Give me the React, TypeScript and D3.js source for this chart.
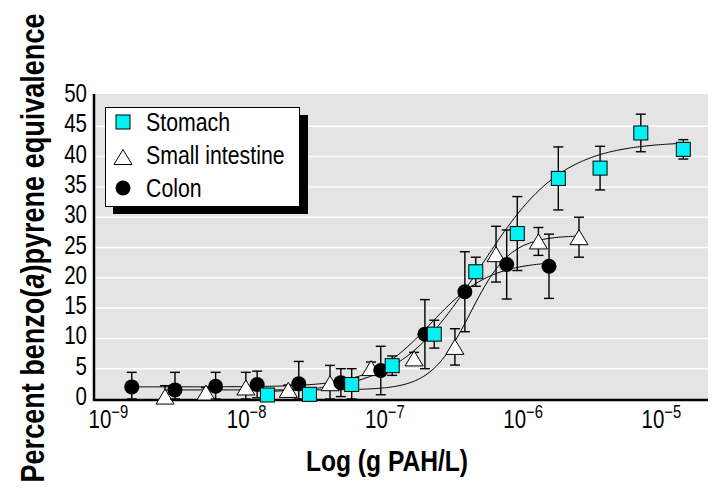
import React from "react";
import * as d3 from "d3";

// ---- data (x in g PAH/L, y in percent B[a]P equivalence) ----
const stomachX = [1.59e-8, 3.2e-8, 6.47e-8, 1.27e-7, 2.56e-7, 5.11e-7, 1.02e-6, 2.02e-6, 4.05e-6, 7.98e-6, 1.62e-5];
const stomachY = [0.66, 0.77, 2.4, 5.5, 10.7, 21.0, 27.3, 36.4, 38.1, 43.9, 41.2];
const stomachErr = [0.6, 0.6, 2.6, 1.6, 2.3, 2.4, 6.1, 5.2, 3.6, 3.1, 1.6];

const smallX = [2.89e-9, 5.71e-9, 1.11e-8, 2.25e-8, 4.51e-8, 8.93e-8, 1.83e-7, 3.61e-7, 7.16e-7, 1.45e-6, 2.85e-6];
const smallY = [0.4, 1.07, 1.9, 1.5, 2.6, 5.1, 6.7, 8.6, 23.9, 26.0, 26.7];
const smallErr = [1.8, 0.8, 2.5, 0.8, 2.95, 1.0, 1.0, 3.0, 4.6, 2.3, 3.3];

const colonX = [1.66e-9, 3.41e-9, 6.71e-9, 1.34e-8, 2.68e-8, 5.4e-8, 1.05e-7, 2.19e-7, 4.26e-7, 8.55e-7, 1.73e-6];
const colonY = [2.0, 1.5, 2.1, 2.4, 2.5, 2.7, 4.7, 10.7, 17.7, 22.2, 21.9];
const colonErr = [2.4, 2.9, 2.3, 2.2, 3.7, 2.3, 4.0, 5.7, 6.6, 5.7, 5.3];

// fitted sigmoid parameters [bottom, top, log10 EC50, hill]
const stomachFit = [1.0, 42.5, -6.26, 1.45];
const smallFit = [1.5, 27.0, -6.33, 3.0];
const colonFit = [2.0, 22.8, -6.62, 2.0];

const yTicks = [0, 5, 10, 15, 20, 25, 30, 35, 40, 45, 50];
const xTickExps = [-9, -8, -7, -6, -5];
const legendLabels = ["Stomach", "Small intestine", "Colon"];

const W = 726;
const H = 496;
const FONT = "'Liberation Sans', Arial, sans-serif";
const SQ = 0.82; // horizontal condensing factor

const x = d3.scaleLog().domain([Math.pow(10, -9.053), Math.pow(10, -4.612)]).range([94, 708]);
const y = d3.scaleLinear().domain([0, 50]).range([399, 96]);

function fitCurve(xs: number[], p: number[]) {
  const lo = Math.log10(d3.min(xs) as number);
  const hi = Math.log10(d3.max(xs) as number);
  const pts: [number, number][] = [];
  const n = 200;
  for (let i = 0; i <= n; i++) {
    const lx = lo + ((hi - lo) * i) / n;
    const v = p[0] + (p[1] - p[0]) / (1 + Math.pow(10, (p[2] - lx) * p[3]));
    pts.push([Math.pow(10, lx), v]);
  }
  const line = d3
    .line<[number, number]>()
    .x((d) => x(d[0]))
    .y((d) => y(d[1]));
  return line(pts) || "";
}

function ErrorBars({ xs, ys, es }: { xs: number[]; ys: number[]; es: number[] }) {
  return (
    <g stroke="#000" strokeWidth={1.4}>
      {xs.map((xv, i) => {
        const cx = x(xv);
        const top = y(ys[i] + es[i]);
        const bot = y(Math.max(0, ys[i] - es[i]));
        return (
          <g key={i}>
            <line x1={cx} x2={cx} y1={top} y2={bot} />
            <line x1={cx - 5} x2={cx + 5} y1={top} y2={top} />
            <line x1={cx - 5} x2={cx + 5} y1={bot} y2={bot} />
          </g>
        );
      })}
    </g>
  );
}

function tri(cx: number, cy: number, w: number, h: number) {
  return `M${cx},${cy - h / 2}L${cx + w / 2},${cy + h / 2}L${cx - w / 2},${cy + h / 2}Z`;
}

function NText({
  x: tx,
  y: ty,
  rot = 0,
  anchor = "start",
  size,
  bold = false,
  children,
}: {
  x: number;
  y: number;
  rot?: number;
  anchor?: string;
  size: number;
  bold?: boolean;
  children: React.ReactNode;
}) {
  return (
    <text
      transform={`translate(${tx},${ty}) rotate(${rot}) scale(${SQ},1)`}
      textAnchor={anchor}
      fontSize={size}
      fontWeight={bold ? "bold" : "normal"}
      fill="#000"
    >
      {children}
    </text>
  );
}

export default function App() {
  return (
    <svg
      width={W}
      height={H}
      style={{ position: "absolute", left: 0, top: 0, background: "#fff" }}
      fontFamily={FONT}
    >
      {/* plot background */}
      <rect x={94} y={y(50) - 2} width={708 - 94} height={y(0) - y(50) + 2} fill="#e4e4e4" />
      {/* gridlines */}
      {yTicks
        .filter((t) => t > 0 && t < 50)
        .map((t) => (
          <line key={t} x1={95} x2={708} y1={y(t)} y2={y(t)} stroke="#fff" strokeWidth={1.5} />
        ))}
      {/* axes */}
      <line x1={94} x2={94} y1={y(50) - 2} y2={401} stroke="#000" strokeWidth={2.5} />
      <line x1={93} x2={708} y1={400} y2={400} stroke="#000" strokeWidth={2.5} />

      {/* y tick labels */}
      {yTicks.map((t) => (
        <NText key={t} x={87} y={y(t) + 6} anchor="end" size={25}>
          {t}
        </NText>
      ))}
      {/* x tick labels */}
      {xTickExps.map((e) => (
        <NText key={e} x={x(Math.pow(10, e)) + 7} y={428} anchor="middle" size={25}>
          10
          <tspan dy={-10} fontSize={18}>
            {"\u2212" + Math.abs(e)}
          </tspan>
        </NText>
      ))}

      {/* axis titles */}
      <NText x={387} y={471} anchor="middle" size={30} bold>
        Log (g PAH/L)
      </NText>
      <NText x={44} y={248} rot={-90} anchor="middle" size={33} bold>
        Percent benzo(<tspan fontStyle="italic">a</tspan>)pyrene equivalence
      </NText>

      {/* fitted curves */}
      <g fill="none" stroke="#000" strokeWidth={1}>
        <path d={fitCurve(stomachX, stomachFit)} />
        <path d={fitCurve(smallX, smallFit)} />
        <path d={fitCurve(colonX, colonFit)} />
      </g>

      {/* small intestine */}
      <ErrorBars xs={smallX} ys={smallY} es={smallErr} />
      {smallX.map((xv, i) => (
        <path key={i} d={tri(x(xv), y(smallY[i]), 18, 15)} fill="#fff" stroke="#000" strokeWidth={1} />
      ))}
      {/* colon */}
      <ErrorBars xs={colonX} ys={colonY} es={colonErr} />
      {colonX.map((xv, i) => (
        <circle key={i} cx={x(xv)} cy={y(colonY[i])} r={7.5} fill="#000" />
      ))}
      {/* stomach */}
      <ErrorBars xs={stomachX} ys={stomachY} es={stomachErr} />
      {stomachX.map((xv, i) => (
        <rect
          key={i}
          x={x(xv) - 7}
          y={y(stomachY[i]) - 7}
          width={14}
          height={14}
          fill="#00f2f2"
          stroke="#000"
          strokeWidth={1}
        />
      ))}

      {/* legend */}
      <rect x={113} y={115} width={195} height={99} fill="#000" />
      <rect x={105.5} y={107.5} width={194} height={99} fill="#fff" stroke="#000" strokeWidth={1} />
      <rect x={116} y={115} width={14} height={14} fill="#00f2f2" stroke="#000" strokeWidth={1} />
      <path d={tri(123, 157, 18, 15)} fill="#fff" stroke="#000" strokeWidth={1} />
      <circle cx={123} cy={188} r={7.5} fill="#000" />
      {legendLabels.map((l, i) => (
        <NText key={l} x={146} y={131 + i * 33} size={26}>
          {l}
        </NText>
      ))}
    </svg>
  );
}
